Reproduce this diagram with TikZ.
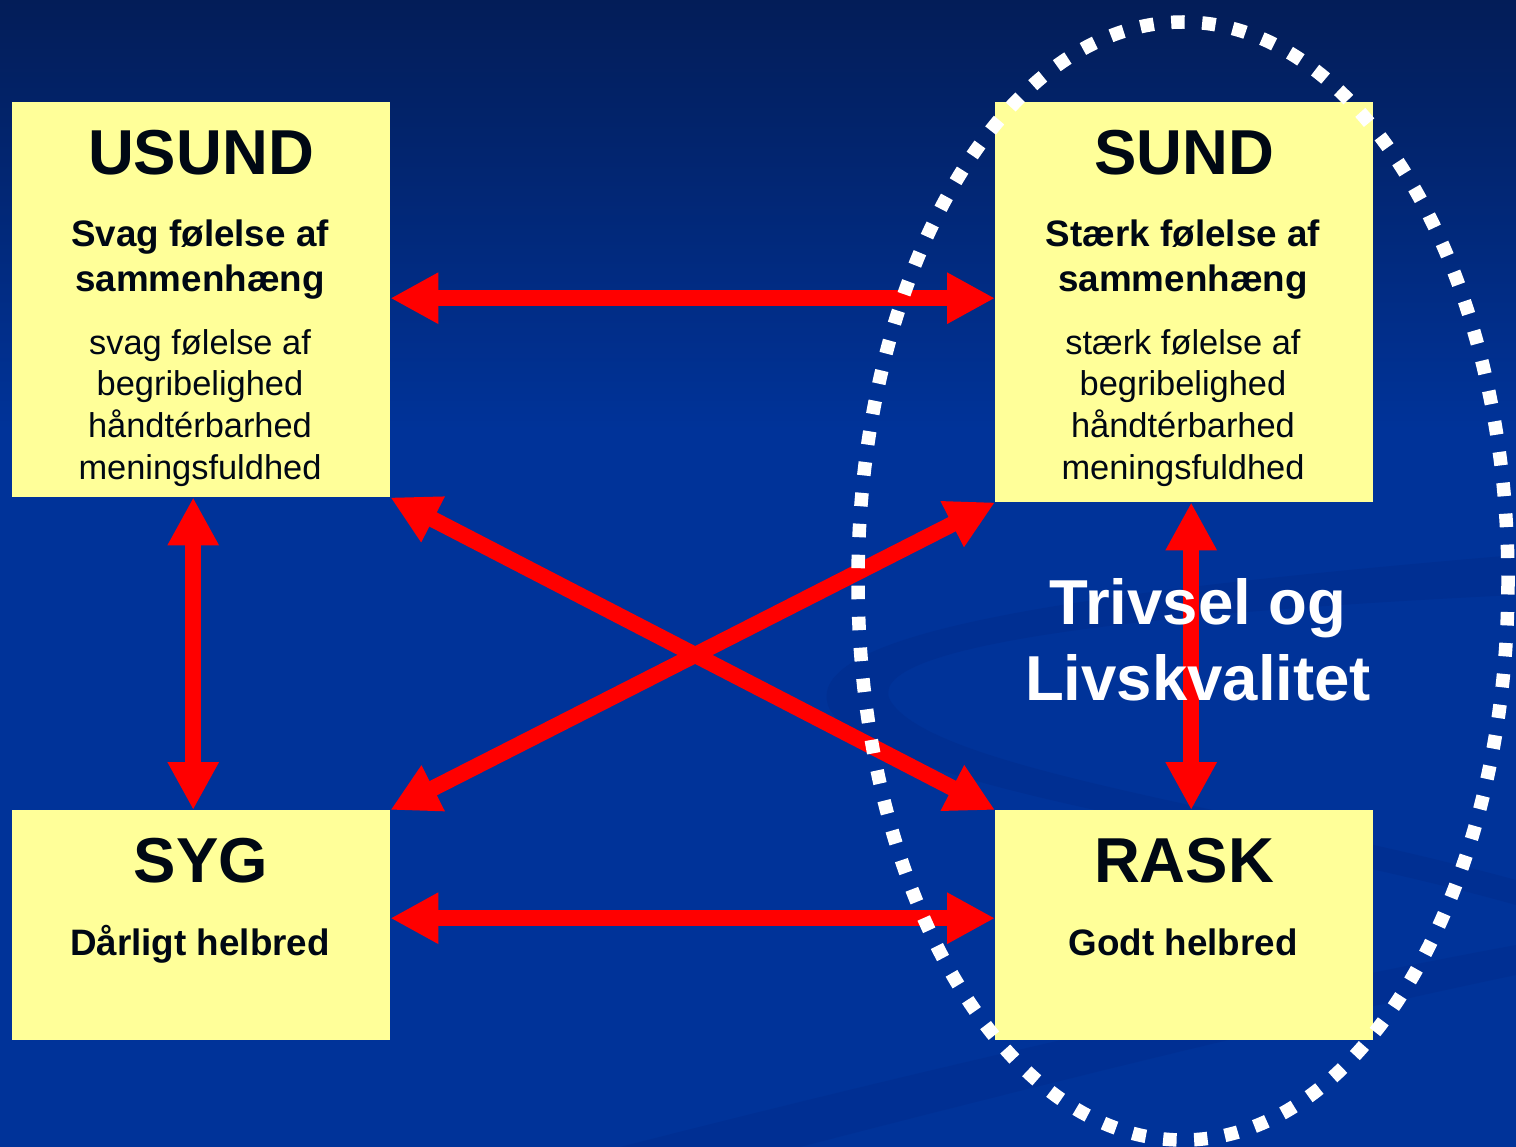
\documentclass[tikz,border=0pt]{standalone}
\usepackage{fontspec}
\setmainfont{Liberation Sans}
\usetikzlibrary{arrows.meta}
\definecolor{bgblue}{RGB}{0,51,153}
\definecolor{bgtop}{RGB}{3,29,88}
\definecolor{boxyellow}{RGB}{255,255,153}
\definecolor{swooshc}{RGB}{0,43,138}
\definecolor{inkblack}{RGB}{0,8,20}
\tikzset{
  box/.style={rectangle, fill=boxyellow, draw=none, inner sep=0pt, anchor=north west},
  titletext/.style={font=\bfseries\fontsize{63.5}{63.5}\selectfont, text=inkblack, anchor=base, inner sep=0pt},
  subtext/.style={font=\bfseries\fontsize{36.8}{36.8}\selectfont, text=inkblack, anchor=base, inner sep=0pt},
  bodytext/.style={font=\fontsize{34.4}{34.4}\selectfont, text=inkblack, anchor=base, inner sep=0pt},
  whitetext/.style={font=\bfseries\fontsize{63.5}{63.5}\selectfont, text=white, anchor=base, inner sep=0pt},
  dblarrow/.style={draw=red, line width=16pt,
    {Triangle[length=48pt,width=48pt]}-{Triangle[length=48pt,width=48pt]}},
  dotring/.style={draw=white, line width=13.5pt, dash pattern=on 13.5pt off 17.5pt}
}
\begin{document}
\begin{tikzpicture}[x=1pt,y=-1pt]
\useasboundingbox (0,0) rectangle (1516,1147);
% background
\fill[bgblue] (0,0) rectangle (1516,1147);
\shade[top color=bgtop, bottom color=bgblue] (0,0) rectangle (1516,430);
% faint swooshes
\fill[swooshc, opacity=0.45] (1516,555) .. controls (1100,590) and (790,630) .. (830,710)
  .. controls (880,790) and (1250,830) .. (1516,905) -- (1516,880)
  .. controls (1260,810) and (930,770) .. (890,700)
  .. controls (860,640) and (1200,610) .. (1516,595) -- cycle;
\fill[swooshc, opacity=0.4] (620,1147) .. controls (1000,1050) and (1300,985) .. (1516,945)
  -- (1516,975) .. controls (1300,1020) and (1000,1095) .. (800,1147) -- cycle;
% boxes
\node[box, minimum width=378pt, minimum height=395pt] (usund) at (12,102) {};
\node[box, minimum width=378pt, minimum height=400pt] (sund) at (995,102) {};
\node[box, minimum width=378pt, minimum height=230pt] (syg) at (12,810) {};
\node[box, minimum width=378pt, minimum height=230pt] (rask) at (995,810) {};
% arrows
\draw[dblarrow] ([yshift=1.5pt]usund.east) -- ([yshift=4pt]sund.west);
\draw[dblarrow] ([yshift=7pt]syg.east) -- ([yshift=7pt]rask.west);
\draw[dblarrow] ([xshift=-8pt]usund.south) -- ([xshift=-8pt]syg.north);
\draw[dblarrow] ([xshift=7pt]sund.south) -- ([xshift=7pt]rask.north);
\draw[dblarrow] (usund.south east) -- (rask.north west);
\draw[dblarrow] (syg.north east) -- (sund.south west);
% USUND text
\node[titletext] (t1) at (201,175) {USUND};
\node[subtext] (t1a) at (200,247) {Svag følelse af};
\node[subtext] (t1b) at (200,292) {sammenhæng};
\node[bodytext] (t1c) at (200,355) {svag følelse af};
\node[bodytext] (t1d) at (200,396) {begribelighed};
\node[bodytext] (t1e) at (200,438) {håndtérbarhed};
\node[bodytext] (t1f) at (200,479) {meningsfuldhed};
% SUND text
\node[titletext] (t2) at (1184,175) {SUND};
\node[subtext] (t2a) at (1183,247) {Stærk følelse af};
\node[subtext] (t2b) at (1183,292) {sammenhæng};
\node[bodytext] (t2c) at (1183,355) {stærk følelse af};
\node[bodytext] (t2d) at (1183,396) {begribelighed};
\node[bodytext] (t2e) at (1183,438) {håndtérbarhed};
\node[bodytext] (t2f) at (1183,479) {meningsfuldhed};
% SYG / RASK text
\node[titletext] (t3) at (201,882) {SYG};
\node[subtext] (t3a) at (200,955) {Dårligt helbred};
\node[titletext] (t4) at (1184,882) {RASK};
\node[subtext] (t4a) at (1183,955) {Godt helbred};
% centre label
\node[whitetext] (tv1) at (1198,624) {Trivsel og};
\node[whitetext] (tv2) at (1198,700) {Livskvalitet};
% dotted ring
\draw[dotring] (1183,581) ellipse [x radius=325, y radius=559];
\end{tikzpicture}
\end{document}
